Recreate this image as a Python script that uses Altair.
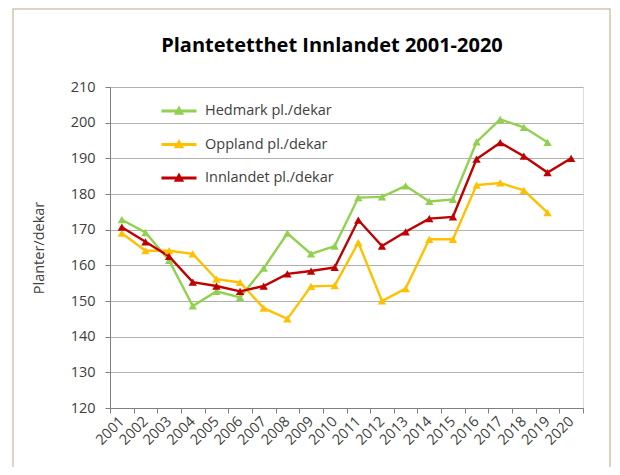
import altair as alt
import pandas as pd

years = [str(y) for y in range(2001, 2021)]
hedmark = [172.8, 169.2, 161.4, 148.6, 152.7, 151.0, 159.2, 169.0, 163.2, 165.4,
           179.0, 179.2, 182.3, 177.9, 178.5, 194.6, 200.9, 198.7, 194.5, None]
oppland = [169.0, 164.1, 164.1, 163.2, 156.1, 155.2, 148.0, 145.0, 154.1, 154.3,
           166.4, 150.0, 153.5, 167.3, 167.3, 182.5, 183.1, 181.0, 174.8, None]
innlandet = [170.7, 166.6, 162.5, 155.3, 154.2, 152.7, 154.2, 157.6, 158.4, 159.4,
             172.7, 165.4, 169.4, 173.1, 173.6, 189.8, 194.4, 190.6, 186.0, 190.0]

series_names = ["Hedmark pl./dekar", "Oppland pl./dekar", "Innlandet pl./dekar"]
series_colors = ["#92d050", "#ffc000", "#c00000"]
series_widths = [2.4, 2.4, 4.0]
series_sizes = [70, 70, 150]
title_text = "Plantetetthet Innlandet 2001-2020"

rows = []
for name, vals in zip(series_names, [hedmark, oppland, innlandet]):
    for y, v in zip(years, vals):
        if v is not None:
            rows.append({"year": y, "value": v, "series": name})
df = pd.DataFrame(rows)

FONT = "Open Sans"

legend = alt.Legend(title=None, orient="none", legendX=50, legendY=5,
                    labelFontSize=14.5, labelColor="#404040", labelFont=FONT,
                    symbolType="M-1,0L1,0M-0.16,0.14L0,-0.15L0.16,0.14Z",
                    symbolSize=1225, symbolStrokeWidth=2.8, rowPadding=5.5, labelOffset=7)

x = alt.X("year:O", title=None, sort=years,
          scale=alt.Scale(paddingInner=0, paddingOuter=0),
          axis=alt.Axis(labelAngle=-45, labelFontSize=14.5, labelColor="#404040", labelFont=FONT,
                        tickBand="extent", tickSize=5, tickColor="#808080",
                        domainColor="#808080", labelAlign="right", labelBaseline="middle",
                        labelPadding=6, grid=False))
y = alt.Y("value:Q", title="Planter/dekar",
          scale=alt.Scale(domain=[120, 210], nice=False, zero=False),
          axis=alt.Axis(values=list(range(120, 211, 10)), labelFontSize=14.5,
                        labelColor="#404040", labelFont=FONT, titleFont=FONT,
                        titleFontSize=14.5, titleColor="#404040", titleFontWeight="normal",
                        tickSize=5, tickColor="#808080", domainColor="#808080",
                        gridColor="#b0b0b0", labelPadding=10, titlePadding=24))

lines = alt.Chart(df).mark_line().encode(
    x=x, y=y,
    color=alt.Color("series:N", scale=alt.Scale(domain=series_names, range=series_colors), legend=legend),
    strokeWidth=alt.StrokeWidth("series:N", scale=alt.Scale(domain=series_names, range=series_widths), legend=None),
)
points = alt.Chart(df).mark_point(shape="triangle-up", filled=True, opacity=1).encode(
    x=x, y=y,
    color=alt.Color("series:N", scale=alt.Scale(domain=series_names, range=series_colors), legend=None),
    size=alt.Size("series:N", scale=alt.Scale(domain=series_names, range=series_sizes), legend=None),
)

frame = alt.Chart(pd.DataFrame({"a": [0]})).mark_rect(
    fill=None, stroke="#cfc6b0", strokeWidth=1.5, clip=False
).encode(x=alt.value(-97), x2=alt.value(500), y=alt.value(-78), y2=alt.value(420))

title = alt.Chart(pd.DataFrame({"t": [title_text]})).mark_text(
    font=FONT, fontSize=20, fontWeight="bold", color="#000000", align="center", baseline="alphabetic"
).encode(text="t:N", x=alt.value(222), y=alt.value(-35))

chart = alt.layer(frame, title, lines, points).resolve_legend(
    color="independent"
).properties(
    width=473, height=321,
    autosize=alt.AutoSizeParams(type="none"),
    padding={"left": 102, "top": 79, "right": 29, "bottom": 59},
).configure_view(stroke=None).configure(font=FONT)

chart.save("out.html", embed_options={"renderer": "svg", "actions": False})
